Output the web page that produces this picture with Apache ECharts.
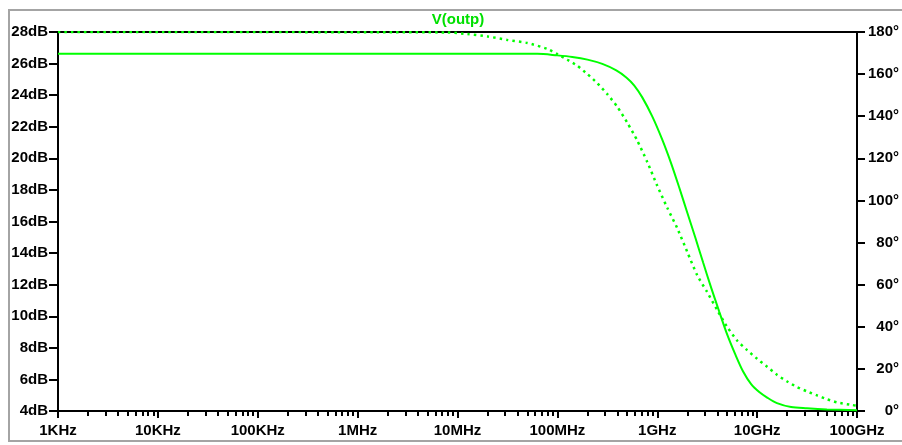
<!DOCTYPE html>
<html>
<head>
<meta charset="utf-8">
<script src="https://cdn.jsdelivr.net/npm/echarts@6/dist/echarts.min.js"></script>
<style>
  html, body { margin: 0; padding: 0; background: #fff; }
  #chart { width: 902px; height: 445px; }
</style>
</head>
<body>
<div id="chart"></div>
<script>
// frequency sweep (Hz)
const magFreq = [1e3, 6.3e7, 1e8, 1.41e8, 2.0e8, 2.82e8, 3.89e8, 4.9e8, 5.89e8, 7.08e8, 8.91e8,
  1.12e9, 1.38e9, 1.66e9, 2.0e9, 2.4e9, 2.88e9, 3.47e9, 4.17e9, 5.01e9, 6.03e9, 7.24e9,
  8.71e9, 1.05e10, 1.26e10, 1.58e10, 2.19e10, 3.16e10, 5.0e10, 1e11];
const magDb = [26.62, 26.62, 26.52, 26.42, 26.25, 25.98, 25.57, 25.12, 24.61, 23.86, 22.66,
  21.2, 19.67, 18.15, 16.55, 15.0, 13.4, 11.8, 10.3, 8.85, 7.6, 6.5,
  5.7, 5.2, 4.85, 4.5, 4.25, 4.17, 4.1, 4.04];

const phFreq = [1e3, 7.9e6, 1.26e7, 2.0e7, 3.16e7, 5.0e7, 7.9e7, 1e8, 1.26e8, 1.58e8, 2.0e8,
  2.51e8, 3.16e8, 3.98e8, 5.0e8, 6.3e8, 7.9e8, 1e9, 1.26e9, 1.58e9, 2.0e9, 2.51e9,
  3.16e9, 3.98e9, 5.0e9, 6.3e9, 7.9e9, 1e10, 1.26e10, 1.58e10, 2.0e10, 2.51e10,
  3.16e10, 3.98e10, 5.0e10, 6.3e10, 8.9e10, 1e11];
const phDeg = [180, 179.8, 179.0, 177.9, 176.2, 174.8, 172.0, 169.5, 166.8, 164.0, 160.0,
  155.7, 150.5, 144.5, 137.0, 128.5, 118.5, 107.0, 96.5, 87.0, 75.5, 64.5,
  56.5, 48.0, 40.0, 33.5, 29.0, 24.8, 21.0, 17.2, 14.0, 11.4,
  9.3, 7.4, 5.6, 4.1, 2.85, 2.6];

const freqLabels = ['1KHz', '10KHz', '100KHz', '1MHz', '10MHz', '100MHz', '1GHz', '10GHz', '100GHz'];

// minor decade ticks 2..9 (in log10 units)
const minorTicks = [];
for (let d = 3; d < 11; d++) {
  for (let m = 2; m <= 9; m++) minorTicks.push(d + Math.log10(m));
}

const green = '#00ff00';
const font = { fontFamily: 'Liberation Sans', fontWeight: 'bold', fontSize: 15, color: '#000' };

const chart = echarts.init(document.getElementById('chart'));
chart.setOption({
  animation: false,
  backgroundColor: '#fff',
  grid: {
    left: 58, right: 44, top: 32, bottom: 34,
    show: true, borderColor: '#000', borderWidth: 2
  },
  graphic: [
    {
      type: 'rect', silent: true, z: -10,
      shape: { x: 9, y: 10, width: 1000, height: 431 },
      style: { fill: 'none', stroke: '#a4a4a4', lineWidth: 2 }
    },
    {
      type: 'text', x: 458, y: 20,
      style: {
        text: 'V(outp)', fill: '#00e000', font: 'bold 15px "Liberation Sans"',
        align: 'center', verticalAlign: 'middle'
      }
    }
  ],
  xAxis: [
    { type: 'log', logBase: 10, min: 1e3, max: 1e11, show: false },
    {
      type: 'value', min: 3, max: 11, interval: 1, position: 'bottom',
      axisLine: { show: true, onZero: false, lineStyle: { color: '#000', width: 2 } },
      axisTick: { show: true, length: 7, lineStyle: { color: '#000', width: 2 } },
      axisLabel: Object.assign({ margin: 12, formatter: v => freqLabels[Math.round(v) - 3] }, font),
      splitLine: { show: false }
    },
    {
      type: 'value', min: 3, max: 11, position: 'bottom',
      axisLine: { show: false, onZero: false },
      axisTick: { show: true, length: 5, customValues: minorTicks, lineStyle: { color: '#000', width: 2 } },
      axisLabel: { show: false },
      splitLine: { show: false }
    }
  ],
  yAxis: [
    {
      type: 'value', min: 4, max: 28, interval: 2, position: 'left',
      axisLine: { show: true, lineStyle: { color: '#000', width: 2 } },
      axisTick: { show: true, length: 9, lineStyle: { color: '#000', width: 2 } },
      axisLabel: Object.assign({ margin: 10, formatter: '{value}dB' }, font),
      splitLine: { show: false }
    },
    {
      type: 'value', min: 0, max: 180, interval: 20, position: 'right',
      axisLine: { show: true, lineStyle: { color: '#000', width: 2 } },
      axisTick: { show: true, length: 8, lineStyle: { color: '#000', width: 2 } },
      axisLabel: Object.assign({ margin: 42, align: 'right', formatter: '{value}°' }, font),
      splitLine: { show: false }
    }
  ],
  series: [
    {
      name: 'mag', type: 'line', xAxisIndex: 0, yAxisIndex: 0,
      data: magFreq.map((f, i) => [f, magDb[i]]),
      showSymbol: false, smooth: 0.3, z: 5,
      lineStyle: { color: green, width: 2 }
    },
    {
      name: 'phase', type: 'line', xAxisIndex: 0, yAxisIndex: 1,
      data: phFreq.map((f, i) => [f, phDeg[i]]),
      showSymbol: false, smooth: 0.2, z: 4,
      lineStyle: { color: green, width: 2.5, type: [2.5, 4] }
    }
  ]
});
</script>
</body>
</html>
